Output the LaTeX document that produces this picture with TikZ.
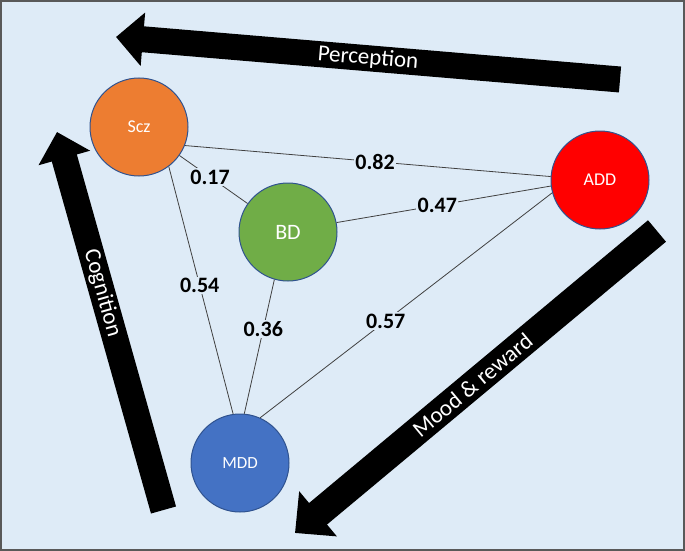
\documentclass[tikz,border=0pt]{standalone}
\usepackage{fontspec}
\setmainfont{Carlito}
\usetikzlibrary{arrows.meta}
\definecolor{bgblue}{HTML}{DEEBF7}
\definecolor{framegray}{HTML}{595959}
\definecolor{sczorange}{HTML}{ED7D31}
\definecolor{bdgreen}{HTML}{70AD47}
\definecolor{addred}{HTML}{FF0000}
\definecolor{mddblue}{HTML}{4472C4}
\definecolor{ringblue}{HTML}{2F528F}
\definecolor{edgegray}{HTML}{404040}

\begin{document}
\begin{tikzpicture}[x=1pt,y=-1pt,
  disorder/.style={circle,draw=ringblue,line width=1pt,minimum size=98pt,inner sep=0pt,text=white,font=\fontsize{18}{18}\selectfont},
  link/.style={edgegray,line width=0.8pt},
  weight/.style={fill=bgblue,text=black,inner sep=1.5pt,font=\bfseries\fontsize{22}{22}\selectfont},
  bigarrow/.style={line width=26pt,-{Triangle[width=52pt,length=27pt]}},
  widearrow/.style={line width=28pt,-{Triangle[width=57pt,length=30pt]}},
  arrowtext/.style={sloped,text=white,font=\fontsize{23}{23}\selectfont}]
\useasboundingbox (0,0) rectangle (685,551);
\fill [bgblue] (0,0) rectangle (685,551);
\draw [framegray,line width=2pt] (1,1) rectangle (684,550);
\coordinate (percTail) at (620,79.5);
\coordinate (percTip) at (116,37);
\coordinate (cogTail) at (163.5,510);
\coordinate (cogTip) at (57,132);
\coordinate (moodTail) at (657,231);
\coordinate (moodTip) at (295,533);
\draw [bigarrow] (percTail) -- node[arrowtext] {Perception} (percTip);
\draw [bigarrow] (cogTail) -- node[arrowtext,pos=0.574] {Cognition} (cogTip);
\draw [widearrow] (moodTail) -- node[arrowtext,pos=0.51] {Mood \& reward} (moodTip);
\node [disorder,fill=sczorange] (Scz) at (139,127) {Scz};
\node [disorder,fill=bdgreen,font=\fontsize{22}{22}\selectfont] (BD) at (288,232) {BD};
\node [disorder,fill=addred] (ADD) at (600,180) {ADD};
\node [disorder,fill=mddblue,font=\fontsize{17}{17}\selectfont] (MDD) at (240,463) {MDD};
\draw [link] (Scz.-22) -- node[weight,pos=0.52] {0.82} (ADD.176);
\draw [link] (Scz) -- node[weight,pos=0.45] {0.17} (BD);
\draw [link] (Scz.-53) -- node[weight,pos=0.48] {0.54} (MDD.98);
\draw [link] (BD.-106) -- node[weight,pos=0.37] {0.36} (MDD.85);
\draw [link] (BD.11) -- node[weight,pos=0.47] {0.47} (ADD.187);
\draw [link] (MDD.66) -- node[weight,pos=0.43] {0.57} (ADD.195);
\end{tikzpicture}
\end{document}
